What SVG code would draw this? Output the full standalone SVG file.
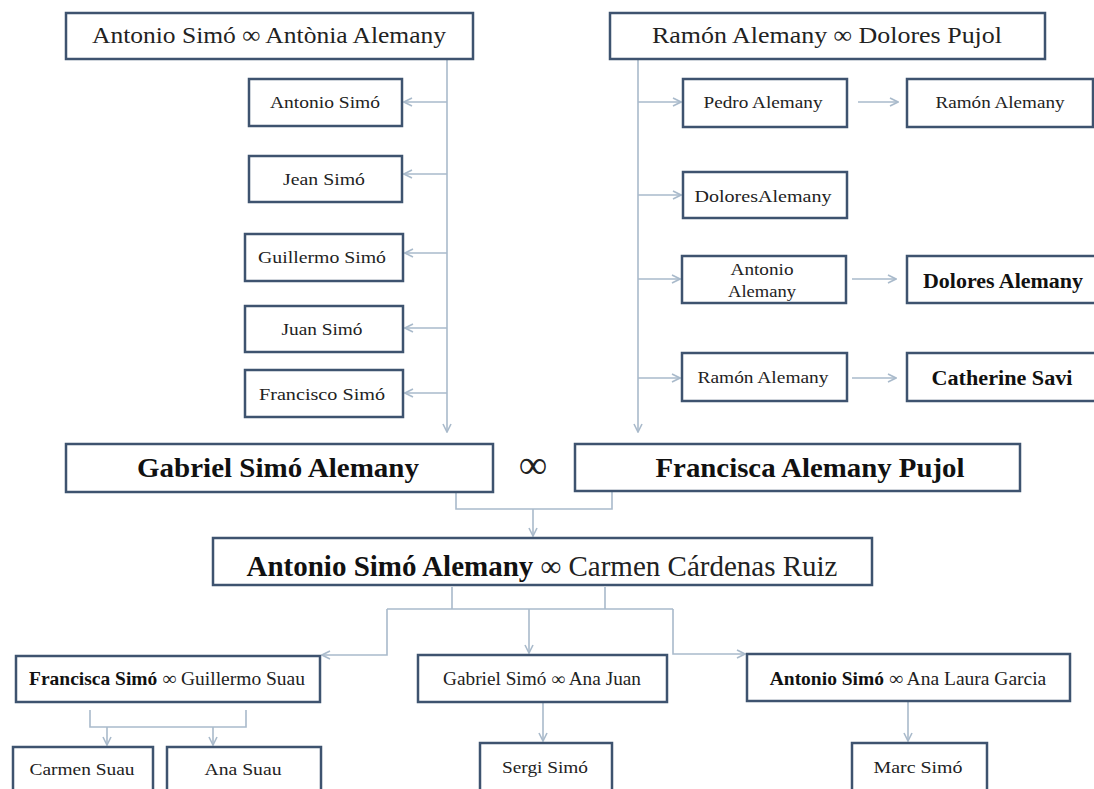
<svg xmlns="http://www.w3.org/2000/svg" width="1094" height="789" viewBox="0 0 1094 789">
<defs>
<style>
.box{fill:#fff;stroke:#3e536f;stroke-width:2.5}
.t{font-family:"Liberation Serif","Times New Roman",serif;fill:#222;text-anchor:middle}
.b{font-weight:bold;fill:#111}
.c{fill:none;stroke:#a9bacb;stroke-width:1.6}
.a{marker-end:url(#arr)}
</style>
<marker id="arr" viewBox="0 0 10 10" refX="9" refY="5" markerWidth="10" markerHeight="10" markerUnits="userSpaceOnUse" orient="auto">
<path d="M1,1 L9,5 L1,9" fill="none" stroke="#a9bacb" stroke-width="1.6"/>
</marker>
</defs>
<rect width="1094" height="789" fill="#fff"/>

<g id="connectors">
<path class="c a" d="M447,59 V432"/>
<path class="c a" d="M447,102 H404"/>
<path class="c a" d="M447,174 H404"/>
<path class="c a" d="M447,253 H405"/>
<path class="c a" d="M447,328 H405"/>
<path class="c a" d="M447,393 H405"/>
<path class="c a" d="M638,59 V432"/>
<path class="c a" d="M638,102 H681"/>
<path class="c a" d="M638,195 H681"/>
<path class="c a" d="M638,279 H680"/>
<path class="c a" d="M638,378 H680"/>
<path class="c a" d="M858,102 H898"/>
<path class="c a" d="M852,279 H896"/>
<path class="c a" d="M852,378 H896"/>
<path class="c" d="M456,493 V509 H612 V492"/>
<path class="c a" d="M533,509 V536"/>
<path class="c" d="M452,587 V609 M605,587 V609 M387,609 H673"/>
<path class="c a" d="M387,609 V655 H322"/>
<path class="c a" d="M529,609 V653"/>
<path class="c a" d="M673,609 V654 H745"/>
<path class="c" d="M90,710 V727 H246 V710"/>
<path class="c a" d="M107,727 V745"/>
<path class="c a" d="M213,727 V745"/>
<path class="c a" d="M543,703 V741"/>
<path class="c a" d="M908,702 V741"/>
</g>

<g id="n-antonio-antonia"><rect class="box" x="66" y="13" width="407" height="46"/><text class="t" x="269" y="43" font-size="24" textLength="354" lengthAdjust="spacingAndGlyphs">Antonio Simó ∞ Antònia Alemany</text></g>
<g id="n-ramon-dolores"><rect class="box" x="610" y="13" width="435" height="46"/><text class="t" x="827" y="43" font-size="24" textLength="350" lengthAdjust="spacingAndGlyphs">Ramón Alemany ∞ Dolores Pujol</text></g>

<g id="n-antonio-simo"><rect class="box" x="249" y="79" width="153" height="47"/><text class="t" x="325" y="108" font-size="17" textLength="110" lengthAdjust="spacingAndGlyphs">Antonio Simó</text></g>
<g id="n-jean-simo"><rect class="box" x="249" y="156" width="153" height="46"/><text class="t" x="324" y="185" font-size="17" textLength="82" lengthAdjust="spacingAndGlyphs">Jean Simó</text></g>
<g id="n-guillermo-simo"><rect class="box" x="245" y="234" width="158" height="47"/><text class="t" x="322" y="263" font-size="17" textLength="128" lengthAdjust="spacingAndGlyphs">Guillermo Simó</text></g>
<g id="n-juan-simo"><rect class="box" x="245" y="306" width="158" height="46"/><text class="t" x="322" y="335" font-size="17" textLength="81" lengthAdjust="spacingAndGlyphs">Juan Simó</text></g>
<g id="n-francisco-simo"><rect class="box" x="245" y="370" width="158" height="47"/><text class="t" x="322" y="400" font-size="17" textLength="126" lengthAdjust="spacingAndGlyphs">Francisco Simó</text></g>

<g id="n-pedro-alemany"><rect class="box" x="683" y="79" width="164" height="48"/><text class="t" x="763" y="108" font-size="17" textLength="119" lengthAdjust="spacingAndGlyphs">Pedro Alemany</text></g>
<g id="n-ramon-alemany-1"><rect class="box" x="907" y="79" width="186" height="48"/><text class="t" x="1000" y="108" font-size="17" textLength="129" lengthAdjust="spacingAndGlyphs">Ramón Alemany</text></g>
<g id="n-dolores-alemany-1"><rect class="box" x="683" y="172" width="164" height="46"/><text class="t" x="763" y="202" font-size="17" textLength="137" lengthAdjust="spacingAndGlyphs">DoloresAlemany</text></g>
<g id="n-antonio-alemany"><rect class="box" x="682" y="256" width="164" height="47"/><text class="t" x="762" y="275" font-size="17" textLength="63" lengthAdjust="spacingAndGlyphs">Antonio</text><text class="t" x="762" y="297" font-size="17" textLength="68" lengthAdjust="spacingAndGlyphs">Alemany</text></g>
<g id="n-dolores-alemany-2"><rect class="box" x="907" y="256" width="200" height="47"/><text class="t b" x="1003" y="288" font-size="20" textLength="160" lengthAdjust="spacingAndGlyphs">Dolores Alemany</text></g>
<g id="n-ramon-alemany-2"><rect class="box" x="682" y="353" width="165" height="48"/><text class="t" x="763" y="383" font-size="17" textLength="131" lengthAdjust="spacingAndGlyphs">Ramón Alemany</text></g>
<g id="n-catherine-savi"><rect class="box" x="907" y="353" width="200" height="48"/><text class="t b" x="1002" y="385" font-size="20" textLength="141" lengthAdjust="spacingAndGlyphs">Catherine Savi</text></g>

<g id="n-gabriel-simo-alemany"><rect class="box" x="66" y="444" width="427" height="48"/><text class="t b" x="278" y="477" font-size="28" textLength="282" lengthAdjust="spacingAndGlyphs">Gabriel Simó Alemany</text></g>
<text class="t" x="533" y="478" font-size="40" fill="#444">∞</text>
<g id="n-francisca-alemany-pujol"><rect class="box" x="575" y="444" width="445" height="47"/><text class="t b" x="810" y="477" font-size="28" textLength="309" lengthAdjust="spacingAndGlyphs">Francisca Alemany Pujol</text></g>

<g id="n-antonio-simo-alemany"><rect class="box" x="213" y="538" width="659" height="47"/><text class="t" x="542" y="576" font-size="29"><tspan class="b">Antonio Simó Alemany</tspan> ∞ Carmen Cárdenas Ruiz</text></g>

<g id="n-francisca-guillermo"><rect class="box" x="16" y="656" width="304" height="46"/><text class="t" x="167" y="685" font-size="19.5"><tspan class="b">Francisca Simó</tspan> ∞ Guillermo Suau</text></g>
<g id="n-gabriel-ana"><rect class="box" x="418" y="655" width="249" height="47"/><text class="t" x="542" y="685" font-size="18" textLength="198" lengthAdjust="spacingAndGlyphs">Gabriel Simó ∞ Ana Juan</text></g>
<g id="n-antonio-analaura"><rect class="box" x="747" y="654" width="323" height="47"/><text class="t" x="908" y="685" font-size="19.5"><tspan class="b">Antonio Simó</tspan> ∞ Ana Laura Garcia</text></g>

<g id="n-carmen-suau"><rect class="box" x="13" y="747" width="140" height="60"/><text class="t" x="82" y="775" font-size="17" textLength="105" lengthAdjust="spacingAndGlyphs">Carmen Suau</text></g>
<g id="n-ana-suau"><rect class="box" x="167" y="747" width="154" height="60"/><text class="t" x="243" y="775" font-size="17" textLength="77" lengthAdjust="spacingAndGlyphs">Ana Suau</text></g>
<g id="n-sergi-simo"><rect class="box" x="480" y="743" width="132" height="60"/><text class="t" x="545" y="773" font-size="17" textLength="86" lengthAdjust="spacingAndGlyphs">Sergi Simó</text></g>
<g id="n-marc-simo"><rect class="box" x="852" y="743" width="135" height="60"/><text class="t" x="918" y="773" font-size="17" textLength="89" lengthAdjust="spacingAndGlyphs">Marc Simó</text></g>
</svg>
